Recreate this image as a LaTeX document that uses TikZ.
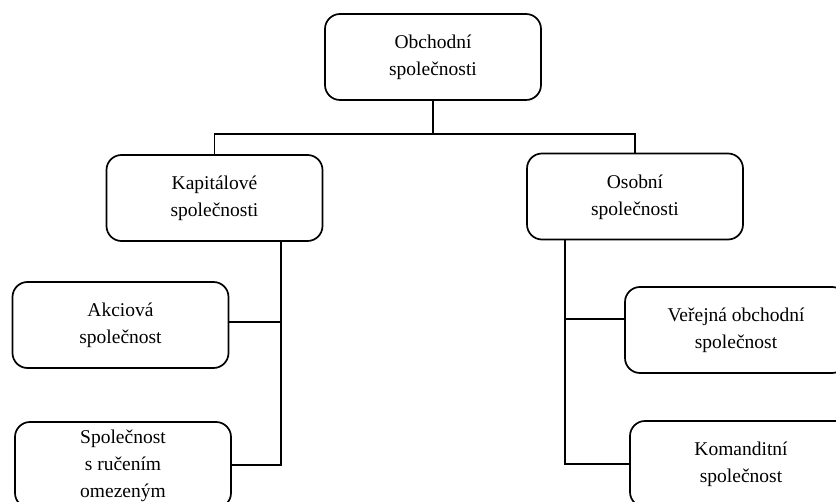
\documentclass[tikz,border=0pt]{standalone}
\usepackage{fontspec}
\setmainfont{Liberation Serif}
\begin{document}
\begin{tikzpicture}[x=1pt,y=-1pt,
  orgbox/.style={draw, line width=1.7pt, rounded corners=15pt,
    minimum width=216pt, minimum height=86pt, align=center,
    inner sep=0pt, text depth=3pt, font=\fontsize{19.5}{27}\selectfont},
  link/.style={line width=1.7pt}]
  \useasboundingbox (0,0) rectangle (836,502);
  \clip (0,0) rectangle (836,502);

  % boxes
  \node[orgbox] (obch) at (433,57) {Obchodní\\společnosti};
  \node[orgbox] (kap) at (214.5,198) {Kapitálové\\společnosti};
  \node[orgbox] (oso) at (635,196.5) {Osobní\\společnosti};
  \node[orgbox] (akc) at (120.5,325) {Akciová\\společnost};
  \node[orgbox] (srm) at (123,465) {Společnost\\s ručením\\omezeným};
  \node[orgbox, minimum width=222pt] (ver) at (736,330) {Veřejná obchodní\\společnost};
  \node[orgbox, minimum width=222pt] (kom) at (741,464) {Komanditní\\společnost};

  % helper coordinates for the bus, the two spines and the side joints
  \coordinate (bus) at (0,134);
  \coordinate (spineL) at (281,0);
  \coordinate (spineR) at (565,0);
  \coordinate (akcJ) at ([yshift=3pt]akc.east);
  \coordinate (verJ) at ([yshift=11pt]ver.west);

  % top level
  \draw[link] (obch.south) -- (obch.south |- bus);
  \draw[link] (kap.north) |- (bus -| oso.north) -- (oso.north);

  % left branch
  \draw[link] (kap.south -| spineL) -- (spineL |- srm.east) -- (srm.east);
  \draw[link] (akcJ) -- (spineL |- akcJ);

  % right branch
  \draw[link] (oso.south -| spineR) -- (spineR |- kom.west) -- (kom.west);
  \draw[link] (verJ) -- (spineR |- verJ);
\end{tikzpicture}
\end{document}
